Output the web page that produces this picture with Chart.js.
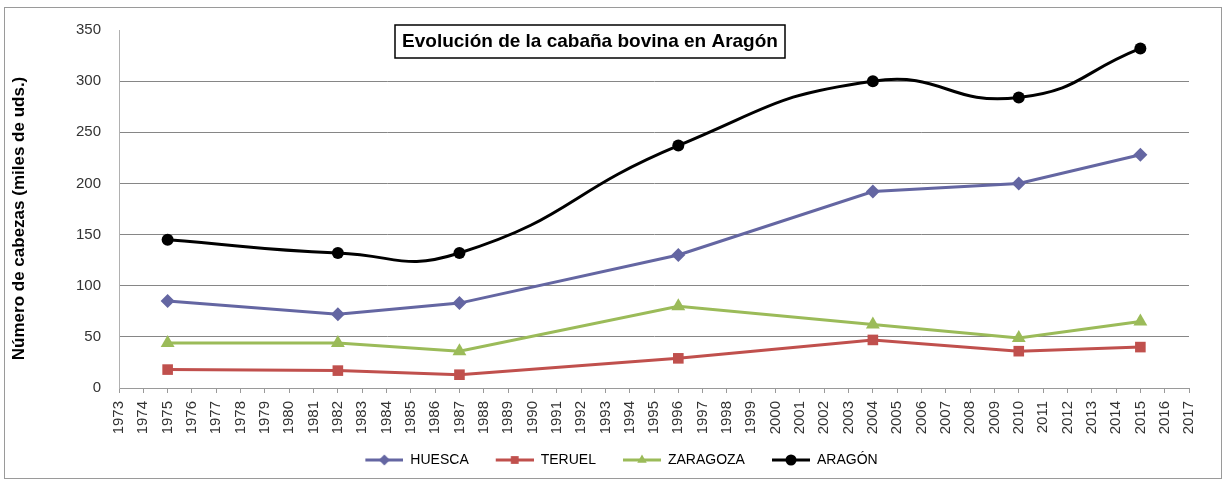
<!doctype html>
<html lang="es">
<head>
    <meta charset="UTF-8">
    <title>Evolución de la cabaña bovina en Aragón</title>
    <script src="https://cdn.jsdelivr.net/npm/chart.js"></script>
    <style>
        body { margin: 0; background: #fff; }
        #wrap { width: 1226px; height: 483px; position: relative; }
    </style>
</head>
<body>
<div id="wrap">
    <canvas id="cabana"></canvas>
</div>
<script>
  // datos (miles de cabezas)
  const years = [1975, 1982, 1987, 1996, 2004, 2010, 2015];
  const huesca = [85, 72, 83, 130, 192, 200, 228];
  const teruel = [18, 17, 13, 29, 47, 36, 40];
  const zaragoza = [44, 44, 36, 80, 62, 49, 65];
  const aragon = [145, 132, 132, 237, 300, 284, 332];

  const yearMin = 1973;
  const yearMax = 2017;
  const titulo = 'Evolución de la cabaña bovina en Aragón';
  const tituloEje = 'Número de cabezas (miles de uds.)';

  Chart.defaults.font.family = '"Liberation Sans", Arial, sans-serif';

  function toPoints(values) {
    return years.map((x, i) => ({x: x, y: values[i]}));
  }

  function serie(label, values, color, style, radius, tension) {
    return {
      label: label,
      data: toPoints(values),
      borderColor: color,
      backgroundColor: color,
      borderWidth: 3,
      pointStyle: style,
      pointRadius: radius,
      pointHoverRadius: radius,
      pointBorderWidth: 0,
      tension: tension
    };
  }

  const datasets = [
    serie('HUESCA', huesca, '#6466A2', 'rectRot', 7, 0),
    serie('TERUEL', teruel, '#C0504D', 'rect', 7.5, 0),
    serie('ZARAGOZA', zaragoza, '#9BBB59', 'triangle', 8, 0),
    serie('ARAGÓN', aragon, '#000000', 'circle', 6, 0.5)
  ];

  // icono de leyenda: línea con marcador
  function legendIcon(ds) {
    const c = document.createElement('canvas');
    c.width = 55;
    c.height = 14;
    const ctx = c.getContext('2d');
    ctx.strokeStyle = ds.borderColor;
    ctx.fillStyle = ds.borderColor;
    ctx.lineWidth = 3;
    ctx.beginPath();
    ctx.moveTo(17, 7);
    ctx.lineTo(55, 7);
    ctx.stroke();
    Chart.helpers.drawPoint(ctx, {pointStyle: ds.pointStyle, radius: 5.5, borderWidth: 0}, 36, 7);
    return c;
  }

  const frame = {
    id: 'frame',
    beforeDraw(chart) {
      const ctx = chart.ctx;
      ctx.save();
      ctx.fillStyle = '#fff';
      ctx.fillRect(0, 0, chart.width, chart.height);
      ctx.strokeStyle = '#9a9a9a';
      ctx.lineWidth = 1;
      ctx.strokeRect(4.5, 7.5, 1217, 471);
      ctx.restore();
    },
    afterDraw(chart) {
      const ctx = chart.ctx;
      ctx.save();
      ctx.fillStyle = '#fff';
      ctx.fillRect(395, 25, 390, 33);
      ctx.strokeStyle = '#000';
      ctx.lineWidth = 1.5;
      ctx.strokeRect(395, 25, 390, 33);
      ctx.fillStyle = '#000';
      ctx.font = 'bold 19px "Liberation Sans", Arial, sans-serif';
      ctx.textAlign = 'center';
      ctx.textBaseline = 'middle';
      ctx.fillText(titulo, 590, 42);
      ctx.restore();
    }
  };

  new Chart(document.getElementById('cabana'), {
    type: 'line',
    data: {datasets: datasets},
    options: {
      responsive: true,
      maintainAspectRatio: false,
      animation: false,
      layout: {padding: {top: 30, bottom: 6, left: 0, right: 0}},
      plugins: {
        title: {display: false},
        tooltip: {enabled: false},
        legend: {
          position: 'bottom',
          labels: {
            usePointStyle: true,
            pointStyleWidth: 55,
            boxHeight: 14,
            padding: 10,
            color: '#222',
            font: {size: 14},
            generateLabels: (chart) => chart.data.datasets.map((ds, i) => ({
              text: ds.label,
              pointStyle: legendIcon(ds),
              fillStyle: ds.borderColor,
              strokeStyle: ds.borderColor,
              lineWidth: 0,
              hidden: false,
              datasetIndex: i
            }))
          }
        }
      },
      scales: {
        x: {
          type: 'linear',
          min: yearMin,
          max: yearMax,
          afterFit: (scale) => { scale.height = 55; },
          ticks: {
            stepSize: 1,
            autoSkip: false,
            maxRotation: 90,
            minRotation: 90,
            padding: 8,
            color: '#333',
            font: {size: 15},
            callback: (v) => String(v)
          },
          grid: {drawOnChartArea: false, tickLength: 5, color: '#9a9a9a'},
          border: {color: '#9a9a9a'}
        },
        y: {
          min: 0,
          max: 350,
          afterFit: (scale) => { scale.width = 119; },
          ticks: {stepSize: 50, padding: 18, color: '#333', font: {size: 15}},
          grid: {
            drawTicks: false,
            color: (ctx) => (ctx.tick && ctx.tick.value === 350) ? 'rgba(0,0,0,0)' : '#868686'
          },
          border: {color: '#b0b0b0'},
          title: {
            display: true,
            // espacios finales para bajar el texto como en el original
            text: tituloEje + '    ',
            color: '#000',
            font: {size: 17, weight: 'bold'},
            padding: {top: 9, bottom: 0}
          }
        },
        yR: {
          position: 'right',
          afterFit: (scale) => { scale.width = 37; },
          ticks: {display: false},
          grid: {display: false},
          border: {display: false}
        }
      }
    },
    plugins: [frame]
  });
</script>
</body>
</html>
